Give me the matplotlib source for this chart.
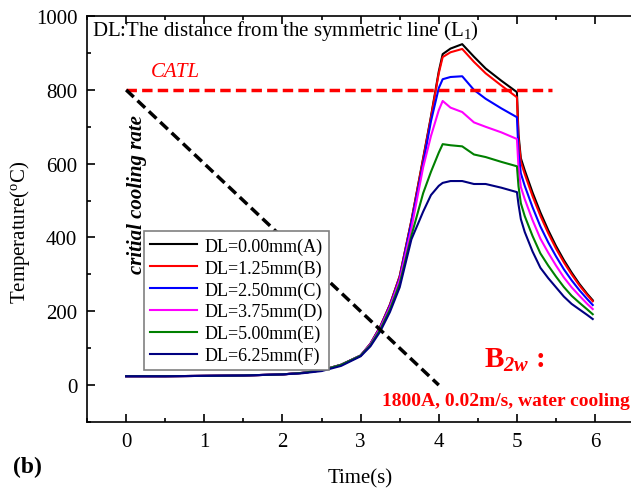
import matplotlib
matplotlib.use("Agg")
import matplotlib.pyplot as plt
from matplotlib.ticker import MultipleLocator

plt.rcParams['font.family'] = ['Liberation Serif', 'DejaVu Serif']
plt.rcParams['mathtext.fontset'] = 'custom'
plt.rcParams['mathtext.rm'] = 'Liberation Serif'
plt.rcParams['mathtext.it'] = 'Liberation Serif:italic'
plt.rcParams['mathtext.bf'] = 'Liberation Serif:bold'
plt.rcParams['mathtext.bfit'] = 'Liberation Serif:italic:bold'

# time (s) shared by all curves
time = [0, 0.5, 1, 1.5, 2, 2.25, 2.5, 2.75, 3.0,
        3.125, 3.25, 3.375, 3.5,
        3.65, 3.8, 3.9, 4.0, 4.05,
        4.15, 4.3, 4.45, 4.6, 4.8, 5.0,
        5.02, 5.05, 5.1, 5.2, 5.3, 5.4, 5.5, 5.6, 5.7, 5.8, 5.9, 5.97]

base = [24, 24, 25, 26, 29, 33, 40, 55, 80]

temp_a = base + [112, 158, 218, 295] + [446, 615, 728, 850, 897] + \
    [912, 924, 890, 858, 825, 794] + \
    [680, 615, 582, 522, 468, 420, 377, 339, 305, 274, 247, 230]
temp_b = base + [112, 158, 218, 295] + [446, 612, 725, 845, 889] + \
    [902, 911, 876, 845, 812, 780] + \
    [669, 605, 572, 512, 459, 412, 370, 333, 300, 270, 244, 227]
temp_c = base + [111, 156, 215, 290] + [440, 600, 715, 805, 829] + \
    [835, 837, 800, 776, 750, 726] + \
    [632, 574, 540, 482, 430, 387, 349, 314, 284, 257, 233, 217]
temp_d = base + [110, 154, 211, 285] + [425, 590, 675, 745, 770] + \
    [752, 740, 712, 700, 685, 667] + \
    [591, 537, 504, 447, 397, 359, 324, 292, 265, 242, 220, 206]
temp_e = base + [108, 150, 205, 275] + [405, 520, 578, 630, 653] + \
    [650, 647, 625, 618, 605, 593] + \
    [539, 493, 458, 404, 357, 324, 294, 266, 242, 223, 205, 192]
temp_f = [24, 24, 25, 26, 29, 32, 38, 52, 78] + [105, 145, 198, 265] + \
    [395, 470, 515, 540, 548] + [553, 553, 545, 545, 535, 523] + \
    [490, 450, 415, 362, 318, 290, 265, 240, 220, 205, 190, 179]

labels = ['DL=0.00mm(A)', 'DL=1.25mm(B)', 'DL=2.50mm(C)',
          'DL=3.75mm(D)', 'DL=5.00mm(E)', 'DL=6.25mm(F)']
colors = ['black', '#ff0000', '#0000ff', '#ff00ff', '#008000', '#000080']

catl_t = [0, 5.45]
catl_T = [800, 800]
ccr_t = [0, 4]
ccr_T = [800, 0]

fig = plt.figure(figsize=(6.31, 4.89), dpi=100)
ax = fig.add_axes([0.138, 0.135, 0.867, 0.830])

for temps, lab, col in zip([temp_a, temp_b, temp_c, temp_d, temp_e, temp_f],
                           labels, colors):
    ax.plot(time, temps, color=col, lw=1.5, label=lab)

ax.plot(catl_t, catl_T, color='#ff0000', lw=2.5, ls=(0, (3, 1.5)))
ax.plot(ccr_t, ccr_T, color='black', lw=2.5, ls=(0, (3, 1.5)))

ax.set_xlim(-0.5, 6.5)
ax.set_ylim(-100, 1000)
ax.xaxis.set_major_locator(MultipleLocator(1))
ax.xaxis.set_minor_locator(MultipleLocator(0.5))
ax.yaxis.set_major_locator(MultipleLocator(200))
ax.yaxis.set_minor_locator(MultipleLocator(100))
ax.tick_params(which='both', direction='in', top=True, right=False,
               labelsize=15, width=1.2)
ax.tick_params(which='major', length=6, pad=7)
ax.tick_params(which='minor', length=3)
for sp in ax.spines.values():
    sp.set_linewidth(1.2)
ax.spines['right'].set_visible(False)

ax.set_xlabel('Time(s)', fontsize=15)
ax.xaxis.set_label_coords(0.5, -0.113)
ax.set_ylabel(r'Temperature($^{\mathrm{o}}$C)', fontsize=15)
ax.yaxis.set_label_coords(-0.1, 0.47)

leg = ax.legend(loc='upper left', bbox_to_anchor=(0.104, 0.470),
                borderaxespad=0, fontsize=13, fancybox=False, framealpha=1,
                edgecolor='#808080', handlelength=2.6, handletextpad=0.4,
                labelspacing=0.25, borderpad=0.35)
leg.get_frame().set_linewidth(1.2)

ax.text(0.009, 0.995, r'DL:The distance from the symmetric line (L$_{1}$)',
        transform=ax.transAxes, fontsize=15, ha='left', va='top')
ax.text(0.32, 851, 'CATL', color='#ff0000', fontsize=15, style='italic',
        ha='left', va='center')
ax.text(0.14, 520, 'critial cooling rate', fontsize=15, style='italic',
        weight='bold', rotation=90, ha='center', va='center')
ax.text(4.58, 50, r'$\mathbf{B}_{\mathbfit{2w}}\mathbf{\,:}$', color='#ff0000',
        fontsize=21, ha='left', va='baseline')
ax.text(6.45, -41, '1800A, 0.02m/s, water cooling', color='#ff0000',
        fontsize=14, weight='bold', ha='right', va='center')
fig.text(0.02, 0.045, '(b)', fontsize=17, weight='bold', ha='left',
         va='center')

fig.savefig('out.png', dpi=100)
